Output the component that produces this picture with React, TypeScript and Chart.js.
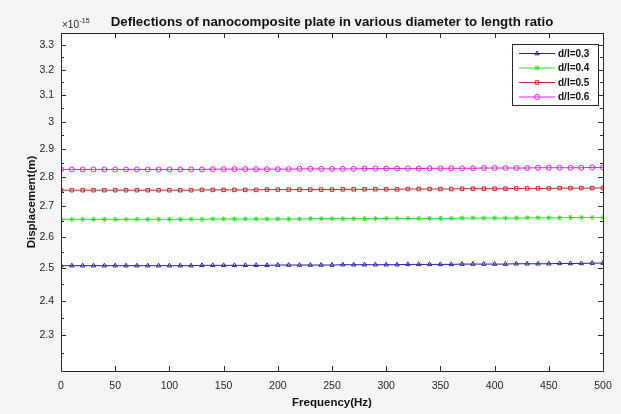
import React, { useEffect, useRef } from "react";
import { Chart, registerables } from "chart.js";
import { drawPoint } from "chart.js/helpers";

Chart.register(...registerables);

const frequencies = [
  0, 10, 20, 30, 40, 50, 60, 70, 80, 90, 100,
  110, 120, 130, 140, 150, 160, 170, 180, 190, 200,
  210, 220, 230, 240, 250, 260, 270, 280, 290, 300,
  310, 320, 330, 340, 350, 360, 370, 380, 390, 400,
  410, 420, 430, 440, 450, 460, 470, 480, 490, 500,
];

// displacement in units of 1e-15 m
const dl03 = [
  2.508, 2.508, 2.508, 2.508, 2.508, 2.508, 2.508, 2.508, 2.508, 2.508, 2.508,
  2.508, 2.508, 2.509, 2.509, 2.509, 2.509, 2.509, 2.509, 2.509, 2.510,
  2.510, 2.510, 2.510, 2.510, 2.510, 2.511, 2.511, 2.511, 2.511, 2.511,
  2.511, 2.512, 2.512, 2.512, 2.512, 2.512, 2.513, 2.513, 2.513, 2.513,
  2.513, 2.514, 2.514, 2.514, 2.514, 2.515, 2.515, 2.515, 2.516, 2.516,
];
const dl04 = [
  2.657, 2.657, 2.657, 2.657, 2.657, 2.657, 2.657, 2.657, 2.657, 2.657, 2.657,
  2.657, 2.657, 2.657, 2.658, 2.658, 2.658, 2.658, 2.658, 2.658, 2.658,
  2.658, 2.658, 2.659, 2.659, 2.659, 2.659, 2.659, 2.659, 2.659, 2.660,
  2.660, 2.660, 2.660, 2.660, 2.660, 2.660, 2.661, 2.661, 2.661, 2.661,
  2.661, 2.661, 2.662, 2.662, 2.662, 2.662, 2.663, 2.663, 2.663, 2.663,
];
const dl05 = [
  2.755, 2.755, 2.755, 2.755, 2.755, 2.755, 2.755, 2.755, 2.755, 2.755, 2.755,
  2.755, 2.755, 2.756, 2.756, 2.756, 2.756, 2.756, 2.756, 2.757, 2.757,
  2.757, 2.757, 2.757, 2.757, 2.757, 2.758, 2.758, 2.758, 2.758, 2.758,
  2.758, 2.759, 2.759, 2.759, 2.759, 2.759, 2.760, 2.760, 2.760, 2.760,
  2.760, 2.761, 2.761, 2.761, 2.761, 2.762, 2.762, 2.762, 2.762, 2.763,
];
const dl06 = [
  2.827, 2.827, 2.827, 2.827, 2.827, 2.827, 2.827, 2.827, 2.827, 2.827, 2.827,
  2.827, 2.827, 2.827, 2.828, 2.828, 2.828, 2.828, 2.828, 2.828, 2.828,
  2.828, 2.829, 2.829, 2.829, 2.829, 2.829, 2.829, 2.830, 2.830, 2.830,
  2.830, 2.830, 2.830, 2.831, 2.831, 2.831, 2.831, 2.831, 2.832, 2.832,
  2.832, 2.832, 2.832, 2.833, 2.833, 2.833, 2.833, 2.833, 2.834, 2.834,
];

const seriesLabels = ["d/l=0.3", "d/l=0.4", "d/l=0.5", "d/l=0.6"];
const xTicks = [0, 50, 100, 150, 200, 250, 300, 350, 400, 450, 500];
const yTicks = [2.3, 2.4, 2.5, 2.6, 2.7, 2.8, 2.9, 3, 3.1, 3.2, 3.3];
const yMinorTicks = [2.25, 2.35, 2.45, 2.55, 2.65, 2.75, 2.85, 2.95, 3.05, 3.15, 3.25];

const titleText = "Deflections of nanocomposite plate in various diameter to length ratio";
const xTitle = "Frequency(Hz)";
const yTitle = "Displacement(m)";

const FONT = "'Liberation Sans', Arial, Helvetica, sans-serif";
const AXIS = "#262626";

const styles = [
  { color: "#24249a", point: "triangle" },
  { color: "#22e622", point: "star" },
  { color: "#c42a2a", point: "rect" },
  { color: "#e41ee4", point: "circle" },
];

const decorPlugin = {
  id: "decor",
  beforeDraw(chart: any) {
    const { ctx, chartArea: a } = chart;
    ctx.save();
    ctx.fillStyle = "#f5f5f5";
    ctx.fillRect(0, 0, chart.width, chart.height);
    ctx.fillStyle = "#ffffff";
    ctx.fillRect(a.left, a.top, a.right - a.left, a.bottom - a.top);
    ctx.restore();
  },
  afterDraw(chart: any) {
    const { ctx, chartArea: a } = chart;
    const xs = chart.scales.x;
    const ys = chart.scales.y;
    ctx.save();
    ctx.strokeStyle = AXIS;
    ctx.lineWidth = 1;
    ctx.beginPath();
    ctx.rect(Math.round(a.left) + 0.5, Math.round(a.top) + 0.5, Math.round(a.right - a.left), Math.round(a.bottom - a.top));
    ctx.stroke();
    // ticks
    ctx.beginPath();
    const L = 5;
    for (const v of xTicks) {
      const px = Math.round(xs.getPixelForValue(v)) + 0.5;
      ctx.moveTo(px, a.bottom);
      ctx.lineTo(px, a.bottom - L);
      ctx.moveTo(px, a.top);
      ctx.lineTo(px, a.top + L);
    }
    for (const v of yTicks) {
      const py = Math.round(ys.getPixelForValue(v)) + 0.5;
      ctx.moveTo(a.left, py);
      ctx.lineTo(a.left + L, py);
      ctx.moveTo(a.right, py);
      ctx.lineTo(a.right - L, py);
    }
    for (const v of yMinorTicks) {
      const py = Math.round(ys.getPixelForValue(v)) + 0.5;
      ctx.moveTo(a.left, py);
      ctx.lineTo(a.left + 3, py);
      ctx.moveTo(a.right, py);
      ctx.lineTo(a.right - 3, py);
    }
    ctx.stroke();

    // title
    ctx.fillStyle = "#111111";
    ctx.font = `bold 13.3px ${FONT}`;
    ctx.textAlign = "center";
    ctx.textBaseline = "alphabetic";
    ctx.fillText(titleText, (a.left + a.right) / 2, 26);

    // exponent
    ctx.fillStyle = AXIS;
    ctx.textAlign = "left";
    ctx.font = `10px ${FONT}`;
    ctx.fillText("\u00d710", a.left + 1, 28);
    const w = ctx.measureText("\u00d710").width;
    ctx.font = `7px ${FONT}`;
    ctx.fillText("-15", a.left + 1 + w + 0.5, 23);

    // axis titles
    ctx.fillStyle = "#111111";
    ctx.font = `bold 11.5px ${FONT}`;
    ctx.textAlign = "center";
    ctx.textBaseline = "middle";
    ctx.fillText(xTitle, (a.left + a.right) / 2, 403);
    ctx.save();
    ctx.translate(32, (a.top + a.bottom) / 2);
    ctx.rotate(-Math.PI / 2);
    ctx.fillText(yTitle, 0, 0);
    ctx.restore();

    // legend
    const bx = 512, by = 44, bw = 86, bh = 61;
    ctx.fillStyle = "#ffffff";
    ctx.fillRect(bx, by, bw, bh);
    ctx.strokeStyle = AXIS;
    ctx.strokeRect(bx + 0.5, by + 0.5, bw, bh);
    ctx.textAlign = "left";
    ctx.textBaseline = "middle";
    chart.data.datasets.forEach((ds: any, i: number) => {
      const cy = by + 9.5 + i * 14.5;
      ctx.strokeStyle = ds.borderColor;
      ctx.lineWidth = 1;
      ctx.beginPath();
      ctx.moveTo(bx + 7, cy);
      ctx.lineTo(bx + 43, cy);
      ctx.stroke();
      ctx.fillStyle = "rgba(0,0,0,0)";
      ctx.strokeStyle = ds.borderColor;
      drawPoint(ctx, { pointStyle: ds.pointStyle, radius: 2.5, borderWidth: 1, rotation: 0 } as any, bx + 25, cy);
      ctx.fillStyle = "#111111";
      ctx.font = `bold 10px ${FONT}`;
      ctx.fillText(ds.label, bx + 46, cy + 0.5);
    });
    ctx.restore();
  },
};

export default function App() {
  const ref = useRef<HTMLCanvasElement | null>(null);
  useEffect(() => {
    document.body.style.margin = "0";
    const canvas = ref.current;
    if (!canvas) return;
    const series = [dl03, dl04, dl05, dl06];
    const chart = new Chart(canvas, {
      type: "line",
      data: {
        datasets: series.map((vals, i) => ({
          label: seriesLabels[i],
          data: frequencies.map((f, j) => ({ x: f, y: vals[j] })),
          borderColor: styles[i].color,
          backgroundColor: "rgba(0,0,0,0)",
          borderWidth: 1,
          pointStyle: styles[i].point as any,
          pointRadius: 2.5,
          pointBorderWidth: 1,
          pointBackgroundColor: "rgba(0,0,0,0)",
          pointBorderColor: styles[i].color,
          fill: false,
          tension: 0,
        })),
      },
      options: {
        animation: false,
        responsive: false,
        devicePixelRatio: 1,
        layout: { padding: { top: 33, right: 18, left: 0, bottom: 0 } },
        plugins: { legend: { display: false }, tooltip: { enabled: false }, title: { display: false } },
        scales: {
          x: {
            type: "linear",
            min: 0,
            max: 500,
            grid: { display: false, drawTicks: false },
            border: { display: false },
            ticks: { color: AXIS, font: { size: 10.5, family: FONT }, padding: 9, maxRotation: 0 },
            afterBuildTicks: (s: any) => {
              s.ticks = xTicks.map((v) => ({ value: v }));
            },
            afterFit: (s: any) => {
              s.height = 43;
            },
          },
          y: {
            type: "logarithmic",
            min: 2.2,
            max: 3.35,
            grid: { display: false, drawTicks: false },
            border: { display: false },
            ticks: {
              color: AXIS,
              font: { size: 10.5, family: FONT },
              padding: 7,
              callback: (v: any) => String(v),
            },
            afterBuildTicks: (s: any) => {
              s.ticks = yTicks.map((v) => ({ value: v }));
            },
            afterFit: (s: any) => {
              s.width = 61;
            },
          },
        },
      },
      plugins: [decorPlugin],
    });
    return () => chart.destroy();
  }, []);
  return (
    <div style={{ width: 621, height: 414 }}>
      <canvas ref={ref} width={621} height={414} />
    </div>
  );
}
